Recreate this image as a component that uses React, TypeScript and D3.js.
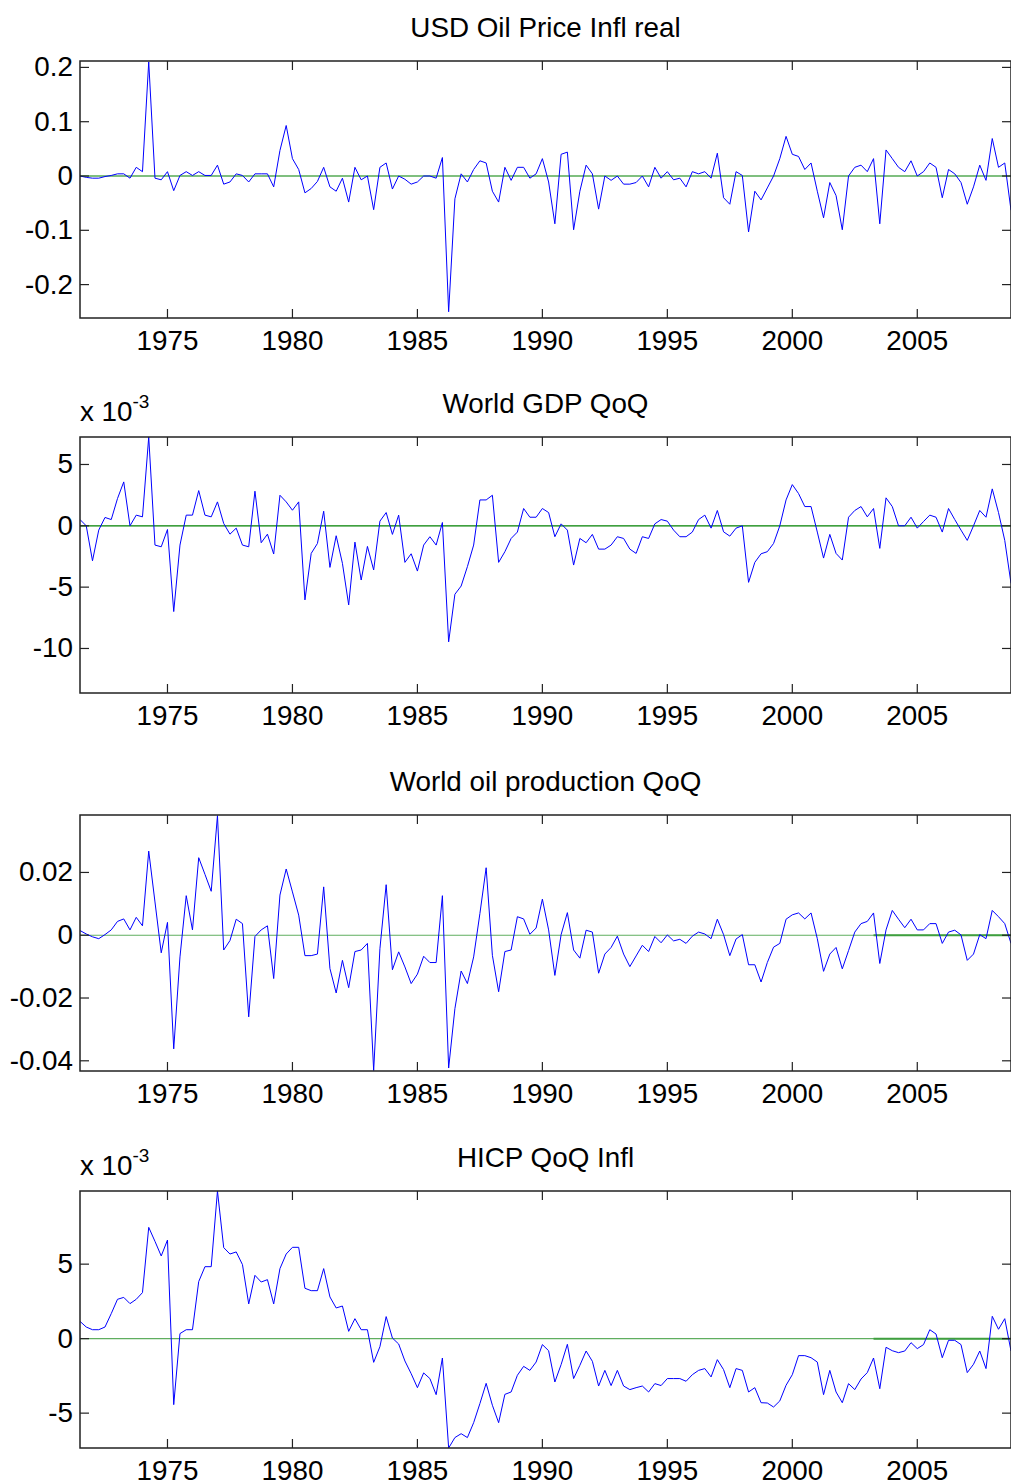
import React from "react";
import * as d3 from "d3";

// Quarterly observations starting 1971Q3 (1971.5), 150 quarters to 2008Q4 (2008.75)
const START_YEAR = 1971.5;

const oilPriceInfl = [
  0, -0.0025, -0.004, -0.004, -0.001, 0.001, 0.004, 0.004, -0.004, 0.016,
  0.008, 0.21, -0.004, -0.007, 0.008, -0.027, 0.001, 0.008, 0.001, 0.008,
  0.001, 0.001, 0.02, -0.015, -0.011, 0.004, 0.001, -0.011, 0.004, 0.004,
  0.004, -0.02, 0.047, 0.093, 0.032, 0.012, -0.031, -0.023, -0.01, 0.016,
  -0.02, -0.028, -0.004, -0.048, 0.016, -0.007, 0, -0.062, 0.016, 0.024,
  -0.024, 0, -0.006, -0.015, -0.011, 0, 0, -0.004, 0.034, -0.25,
  -0.042, 0.004, -0.011, 0.012, 0.028, 0.024, -0.028, -0.048, 0.016, -0.008,
  0.016, 0.016, -0.004, 0.004, 0.032, -0.011, -0.088, 0.04, 0.044, -0.099,
  -0.028, 0.02, 0.004, -0.061, 0, -0.008, 0, -0.015, -0.015, -0.012,
  0, -0.02, 0.016, -0.004, 0.008, -0.007, -0.004, -0.02, 0.008, 0.004,
  0.008, -0.004, 0.042, -0.04, -0.052, 0.008, 0.001, -0.103, -0.028, -0.044,
  -0.022, 0, 0.032, 0.073, 0.04, 0.036, 0.012, 0.024, -0.028, -0.077,
  -0.012, -0.036, -0.099, 0, 0.016, 0.02, 0.008, 0.032, -0.088, 0.048,
  0.032, 0.016, 0.008, 0.028, 0, 0.008, 0.024, 0.016, -0.04, 0.012,
  0.004, -0.012, -0.052, -0.02, 0.02, -0.008, 0.069, 0.016, 0.024, -0.063,
];

// World GDP QoQ, in units of 10^-3
const worldGdpQoq = [
  0.51, 0, -2.85, -0.35, 0.68, 0.51, 2.22, 3.58, 0, 0.87,
  0.73, 7.24, -1.57, -1.71, -0.3, -6.99, -1.57, 0.87, 0.87, 2.87,
  0.87, 0.73, 1.95, 0.19, -0.68, -0.19, -1.57, -1.71, 2.82, -1.38,
  -0.68, -2.3, 2.49, 1.95, 1.27, 1.95, -6.04, -2.25, -1.44, 1.19,
  -3.39, -0.81, -3.06, -6.45, -1.33, -4.42, -1.68, -3.6, 0.38, 1.08,
  -0.7, 0.87, -2.98, -2.28, -3.69, -1.57, -0.89, -1.57, 0.27, -9.46,
  -5.58, -4.91, -3.33, -1.57, 2.11, 2.11, 2.49, -2.98, -2.11, -1.03,
  -0.51, 1.41, 0.7, 0.7, 1.41, 1.08, -0.89, 0.16, -0.35, -3.2,
  -1.03, -1.38, -0.7, -1.9, -1.9, -1.57, -0.89, -1.03, -1.9, -2.25,
  -0.89, -1.03, 0.16, 0.51, 0.38, -0.35, -0.89, -0.89, -0.51, 0.51,
  0.87, -0.19, 1.25, -0.49, -0.84, -0.19, 0, -4.61, -2.98, -2.28,
  -2.11, -1.44, 0, 2.11, 3.36, 2.63, 1.57, 1.57, -0.51, -2.63,
  -0.7, -2.25, -2.79, 0.7, 1.25, 1.57, 0.73, 1.41, -1.84, 2.28,
  1.57, 0, 0, 0.7, -0.19, 0.35, 0.87, 0.7, -0.51, 1.41,
  0.51, -0.35, -1.19, 0, 1.25, 0.7, 3.01, 1.08, -1.19, -4.69,
];

const worldOilProdQoq = [
  0.0015, 0.0004, -0.0005, -0.0011, 0.0002, 0.0017, 0.0044, 0.0052, 0.0017, 0.0057,
  0.003, 0.0268, 0.0106, -0.0056, 0.0041, -0.0362, -0.0069, 0.0126, 0.0017, 0.0247,
  0.0194, 0.014, 0.0381, -0.0047, -0.0017, 0.0051, 0.0037, -0.026, -0.0004, 0.0017,
  0.003, -0.0138, 0.0128, 0.0211, 0.0138, 0.0064, -0.0065, -0.0065, -0.006, 0.0154,
  -0.0106, -0.0184, -0.008, -0.0167, -0.0052, -0.0047, -0.0026, -0.0431, -0.0043, 0.0161,
  -0.011, -0.0053, -0.0101, -0.0154, -0.0124, -0.0067, -0.0087, -0.0087, 0.0126, -0.0423,
  -0.0234, -0.0114, -0.0154, -0.0069, 0.0069, 0.0215, -0.0064, -0.018, -0.0052, -0.0047,
  0.0059, 0.0052, 0.0003, 0.0023, 0.0115, 0.0017, -0.0128, 0.0002, 0.0072, -0.0047,
  -0.0073, 0.0016, 0.001, -0.0121, -0.006, -0.0039, -0.0003, -0.006, -0.01, -0.0066,
  -0.0032, -0.0052, -0.0004, -0.0024, 0.0001, -0.0018, -0.0013, -0.0026, -0.0003, 0.001,
  0.0004, -0.0011, 0.0051, 0.0002, -0.0065, -0.0012, 0.0002, -0.0094, -0.0094, -0.0149,
  -0.0087, -0.0038, -0.0026, 0.0051, 0.0065, 0.0071, 0.0052, 0.0071, -0.0011, -0.0115,
  -0.006, -0.0039, -0.0107, -0.0049, 0.001, 0.0037, 0.0044, 0.0071, -0.009, 0.0017,
  0.0079, 0.0051, 0.0024, 0.0051, 0.0017, 0.0017, 0.0037, 0.0037, -0.0026, 0.001,
  0.0016, 0.0001, -0.008, -0.006, 0.0002, -0.0011, 0.0079, 0.0059, 0.0037, -0.0026,
];

// HICP QoQ inflation, in units of 10^-3
const hicpQoq = [
  1.16, 0.78, 0.6, 0.6, 0.78, 1.68, 2.64, 2.77, 2.35, 2.64,
  3.09, 7.47, 6.53, 5.55, 6.62, -4.43, 0.34, 0.6, 0.6, 3.83,
  4.83, 4.83, 9.91, 6.11, 5.68, 5.82, 4.97, 2.33, 4.25, 3.8,
  3.96, 2.33, 4.7, 5.68, 6.13, 6.13, 3.38, 3.22, 3.22, 4.7,
  2.8, 2.06, 2.19, 0.49, 1.34, 0.6, 0.6, -1.59, -0.54, 1.48,
  0.04, -0.36, -1.5, -2.35, -3.29, -2.3, -2.68, -3.76, -1.3, -7.34,
  -6.64, -6.38, -6.64, -5.64, -4.36, -3.0, -4.47, -5.64, -3.74, -3.58,
  -2.46, -1.86, -2.13, -1.57, -0.4, -0.81, -2.91, -1.74, -0.38, -2.68,
  -1.79, -0.83, -1.52, -3.18, -2.13, -3.15, -2.13, -3.18, -3.42, -3.29,
  -3.18, -3.58, -3.02, -3.15, -2.68, -2.68, -2.68, -2.86, -2.42, -2.13,
  -2.01, -2.57, -1.41, -2.08, -3.29, -2.01, -2.13, -3.58, -3.29, -4.3,
  -4.32, -4.59, -4.18, -3.13, -2.42, -1.14, -1.14, -1.28, -1.57, -3.76,
  -2.13, -3.58, -4.3, -3.02, -3.42, -2.71, -2.28, -1.3, -3.36, -0.58,
  -0.81, -0.94, -0.83, -0.27, -0.67, -0.4, 0.6, 0.31, -1.28, -0.11,
  -0.11, -0.4, -2.28, -1.72, -0.83, -2.01, 1.5, 0.63, 1.34, -0.83,
];

const titles = ["USD Oil Price Infl real", "World GDP QoQ", "World oil production QoQ", "HICP QoQ Infl"];
const yearTicks = [1975, 1980, 1985, 1990, 1995, 2000, 2005];
const yTicks1 = [-0.2, -0.1, 0, 0.1, 0.2];
const yTicks2 = [-10, -5, 0, 5];
const yTicks3 = [-0.04, -0.02, 0, 0.02];
const yTicks4 = [-5, 0, 5];
const yDomains = [
  [-0.2615, 0.2118],
  [-13.63, 7.24],
  [-0.04325, 0.0383],
  [-7.34, 9.91],
];
const scaleLabels = [false, true, false, true];

const W = 1011;
const H = 1483;
const LEFT = 80;
const RIGHT = 1011;
const TOPS = [61, 437, 815, 1191];
const HEIGHTS = [257, 256, 256, 257];
const FONT = "'Liberation Sans', Arial, Helvetica, sans-serif";
const FS = 27.8;
const TICK = 9;

const fmtTick = (v: number) => (v === 0 ? "0" : String(+v.toFixed(4)));

function Panel({ idx, data, ticks }: { idx: number; data: number[]; ticks: number[] }) {
  const top = TOPS[idx];
  const bottom = top + HEIGHTS[idx];
  const years = data.map((_, i) => START_YEAR + i / 4);
  const x = d3.scaleLinear().domain([START_YEAR, years[years.length - 1]]).range([LEFT, RIGHT]);
  const y = d3.scaleLinear().domain(yDomains[idx]).range([bottom, top]);
  const line = d3
    .line<number>()
    .x((_, i) => x(years[i]))
    .y((d) => y(d));
  const clipId = `clip${idx}`;
  const zeroColor = idx < 2 ? "#008000" : "#5fae5f";
  return (
    <g>
      <defs>
        <clipPath id={clipId}>
          <rect x={LEFT} y={top} width={RIGHT - LEFT} height={bottom - top} />
        </clipPath>
      </defs>
      <g clipPath={`url(#${clipId})`}>
        <line x1={LEFT} x2={RIGHT} y1={y(0)} y2={y(0)} stroke={zeroColor} strokeWidth={1.2} />
        {idx >= 2 && (
          <line x1={x(2003.25)} x2={RIGHT} y1={y(0)} y2={y(0)} stroke="#3f9f3f" strokeWidth={2} />
        )}
        <path d={line(data) || ""} fill="none" stroke="#0000ff" strokeWidth={1} />
      </g>
      <rect x={LEFT} y={top} width={RIGHT - LEFT} height={bottom - top} fill="none" stroke="#222" strokeWidth={1.5} />
      {yearTicks.map((t) => (
        <g key={t}>
          <line x1={x(t)} x2={x(t)} y1={bottom} y2={bottom - TICK} stroke="#222" strokeWidth={1.2} />
          <line x1={x(t)} x2={x(t)} y1={top} y2={top + TICK} stroke="#222" strokeWidth={1.2} />
          <text x={x(t)} y={bottom + 32} textAnchor="middle" fontSize={FS} fontFamily={FONT} fill="#000">
            {t}
          </text>
        </g>
      ))}
      {ticks.map((v) => (
        <g key={v}>
          <line x1={LEFT} x2={LEFT + TICK} y1={y(v)} y2={y(v)} stroke="#222" strokeWidth={1.2} />
          <line x1={RIGHT - TICK} x2={RIGHT} y1={y(v)} y2={y(v)} stroke="#222" strokeWidth={1.2} />
          <text x={73} y={y(v) + 9} textAnchor="end" fontSize={FS} fontFamily={FONT} fill="#000">
            {fmtTick(v)}
          </text>
        </g>
      ))}
      <text x={(LEFT + RIGHT) / 2} y={top - 24} textAnchor="middle" fontSize={FS} fontFamily={FONT} fill="#000">
        {titles[idx]}
      </text>
      {scaleLabels[idx] && (
        <text x={LEFT} y={top - 16} fontSize={FS} fontFamily={FONT} fill="#000">
          x 10
          <tspan dy={-13} fontSize={19}>
            -3
          </tspan>
        </text>
      )}
    </g>
  );
}

export default function App() {
  const series = [oilPriceInfl, worldGdpQoq, worldOilProdQoq, hicpQoq];
  const ticks = [yTicks1, yTicks2, yTicks3, yTicks4];
  return (
    <svg
      width={W}
      height={H}
      viewBox={`0 0 ${W} ${H}`}
      style={{ position: "absolute", left: 0, top: 0, background: "#fff" }}
    >
      <rect x={0} y={0} width={W} height={H} fill="#fff" />
      {series.map((d, i) => (
        <Panel key={i} idx={i} data={d} ticks={ticks[i]} />
      ))}
    </svg>
  );
}
